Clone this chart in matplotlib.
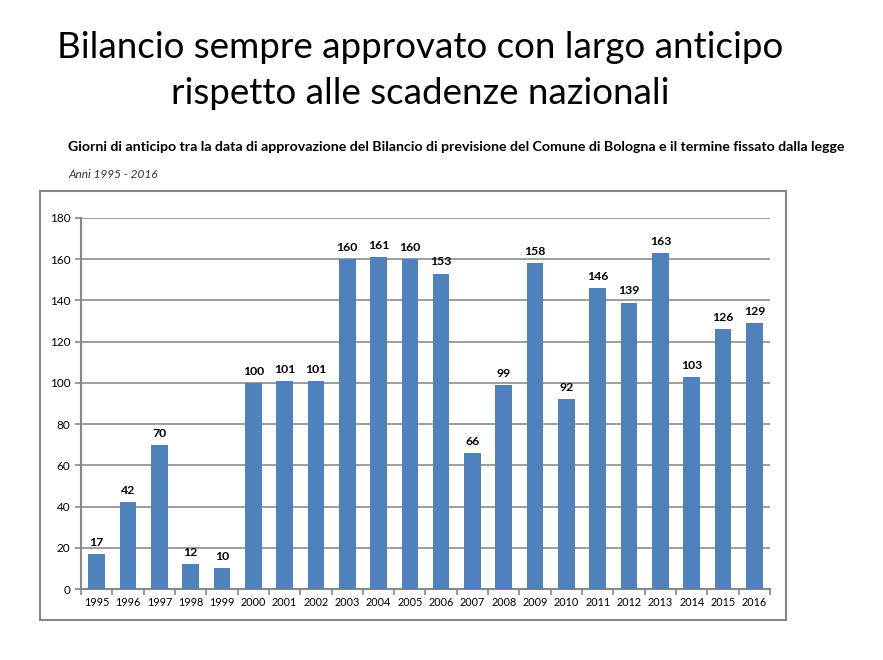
import matplotlib
matplotlib.use("Agg")
import matplotlib.pyplot as plt
from matplotlib.patches import Rectangle

years = [str(y) for y in range(1995, 2017)]
days = [17, 42, 70, 12, 10, 100, 101, 101, 160, 161, 160, 153, 66, 99, 158, 92,
        146, 139, 163, 103, 126, 129]
yticks = [0, 20, 40, 60, 80, 100, 120, 140, 160, 180]

plt.rcParams["font.family"] = ["Lato", "DejaVu Sans"]

fig = plt.figure(figsize=(8.83, 6.6), dpi=100)
W, H = 883, 660

# titles
fig.text(420 / W, 1 - 47 / H, "Bilancio sempre approvato con largo anticipo",
         ha="center", va="center", fontsize=26.5)
fig.text(420 / W, 1 - 93 / H, "rispetto alle scadenze nazionali",
         ha="center", va="center", fontsize=26.5)
fig.text(68 / W, 1 - 147 / H,
         "Giorni di anticipo tra la data di approvazione del Bilancio di previsione "
         "del Comune di Bologna e il termine fissato dalla legge",
         ha="left", va="center", fontsize=10.2, fontweight="bold")
fig.text(68 / W, 1 - 174 / H, "Anni 1995 - 2016", ha="left", va="center",
         fontsize=8.6, style="italic", color="#333333")

# outer chart frame
fig.patches.append(Rectangle((40 / W, 1 - 620 / H), 746 / W, 429 / H,
                             transform=fig.transFigure, fill=False,
                             edgecolor="#888888", linewidth=1.5))

ax = fig.add_axes([81 / W, 1 - 589 / H, 689 / W, 371 / H])
x = range(len(years))
ax.bar(x, days, width=0.53, color="#4F81BD", zorder=3)
for i, v in enumerate(days):
    ax.text(i, v + 3, str(v), ha="center", va="bottom", fontsize=8.8, fontweight="bold")

ax.set_xlim(-0.5, len(years) - 0.5)
ax.set_ylim(0, 180)
ax.set_yticks(yticks)
ax.set_yticklabels([str(t) for t in yticks], fontsize=8.5)
ax.set_xticks(list(x))
ax.set_xticklabels(years, fontsize=7.8)
ax.set_xticks([i - 0.5 for i in range(len(years) + 1)], minor=True)
ax.tick_params(axis="x", which="major", length=0, pad=6)
ax.tick_params(axis="x", which="minor", length=4, color="#888888", width=1.2)
ax.tick_params(axis="y", length=4, color="#888888", width=1.2)
ax.grid(axis="y", color="#8c8c8c", linewidth=1.2, zorder=0)
for s in ["top", "right"]:
    ax.spines[s].set_visible(False)
for s in ["left", "bottom"]:
    ax.spines[s].set_color("#888888")
    ax.spines[s].set_linewidth(1.5)

fig.savefig("out.png", dpi=100)
